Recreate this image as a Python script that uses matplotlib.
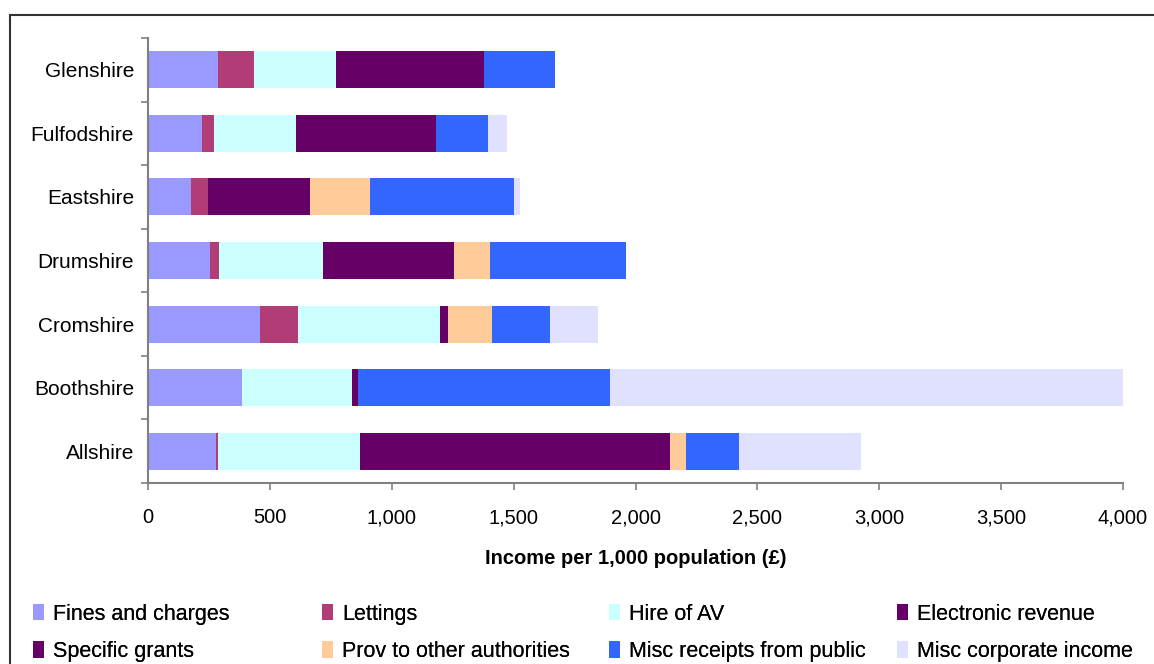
import matplotlib.pyplot as plt
import numpy as np
from matplotlib.patches import Patch
from matplotlib.lines import Line2D
from matplotlib.ticker import FuncFormatter

plt.rcParams['font.family'] = ['Liberation Sans', 'DejaVu Sans']

# counties, bottom to top
counties = ["Allshire", "Boothshire", "Cromshire", "Drumshire",
            "Eastshire", "Fulfodshire", "Glenshire"]

series = ["Fines and charges", "Lettings", "Hire of AV", "Electronic revenue",
          "Specific grants", "Prov to other authorities",
          "Misc receipts from public", "Misc corporate income"]

fines       = [279, 386, 459, 254, 176, 222, 287]
lettings    = [8, 0, 156, 37, 70, 49, 148]
hire_av     = [583, 451, 583, 427, 0, 336, 336]
electronic  = [40, 25, 33, 30, 25, 30, 35]
grants      = [1232, 0, 0, 507, 394, 545, 572]
prov        = [65, 0, 180, 148, 246, 0, 0]
misc_public = [218, 1033, 238, 558, 591, 213, 292]
misc_corp   = [500, 2105, 197, 0, 24, 78, 0]

colors = ["#9999ff", "#b23c75", "#ccffff", "#660066",
          "#660066", "#ffcc99", "#3366ff", "#e0e0ff"]

data = [fines, lettings, hire_av, electronic, grants, prov, misc_public, misc_corp]

fig = plt.figure(figsize=(11.54, 6.64), dpi=100)
ax = fig.add_axes([148/1154, 1 - 483/664, 975/1154, 445/664])

y = np.arange(len(counties))
left = np.zeros(len(counties))
for vals, col in zip(data, colors):
    ax.barh(y, vals, left=left, height=0.58, color=col, linewidth=0)
    left += np.array(vals)

ax.set_xlim(0, 4000)
ax.set_ylim(-0.5, len(counties) - 0.5)
ax.set_xticks(np.arange(0, 4001, 500))
ax.xaxis.set_major_formatter(FuncFormatter(lambda v, p: f"{int(v):,}"))
ax.set_yticks(y)
ax.set_yticklabels(counties)
ax.set_yticks(np.arange(-0.5, len(counties), 1), minor=True)
ax.tick_params(axis='y', which='major', length=0, pad=10, labelsize=15)
ax.tick_params(axis='y', which='minor', length=5, color='#808080', width=1.2)
ax.tick_params(axis='x', length=5, color='#808080', width=1.2, labelsize=14.5, pad=13)

for s in ['top', 'right']:
    ax.spines[s].set_visible(False)
for s in ['left', 'bottom']:
    ax.spines[s].set_color('#808080')
    ax.spines[s].set_linewidth(1.5)

ax.set_xlabel("Income per 1,000 population (£)", fontsize=14.5, fontweight='bold', labelpad=16)

# legend: 4 columns, 2 rows (one small legend per column)
col_x = [24, 313, 600, 888]
for i, x0 in enumerate(col_x):
    idx = [i, i + 4]
    h = [Patch(facecolor=colors[k], edgecolor='none') for k in idx]
    lg = fig.legend(h, [series[k] for k in idx], loc='upper left',
                    bbox_to_anchor=(x0/1154, 1 - 595/664), frameon=False,
                    fontsize=15.5, handlelength=0.55, handleheight=0.8,
                    handletextpad=0.4, labelspacing=0.75, borderaxespad=0)
    fig.add_artist(lg)

# chart border
fig.add_artist(Line2D([10/1154, 10/1154], [0, 1 - 15/664], color='#333333', lw=1.5))
fig.add_artist(Line2D([10/1154, 1], [1 - 15/664, 1 - 15/664], color='#333333', lw=1.5))

fig.savefig("out.png", dpi=100)
